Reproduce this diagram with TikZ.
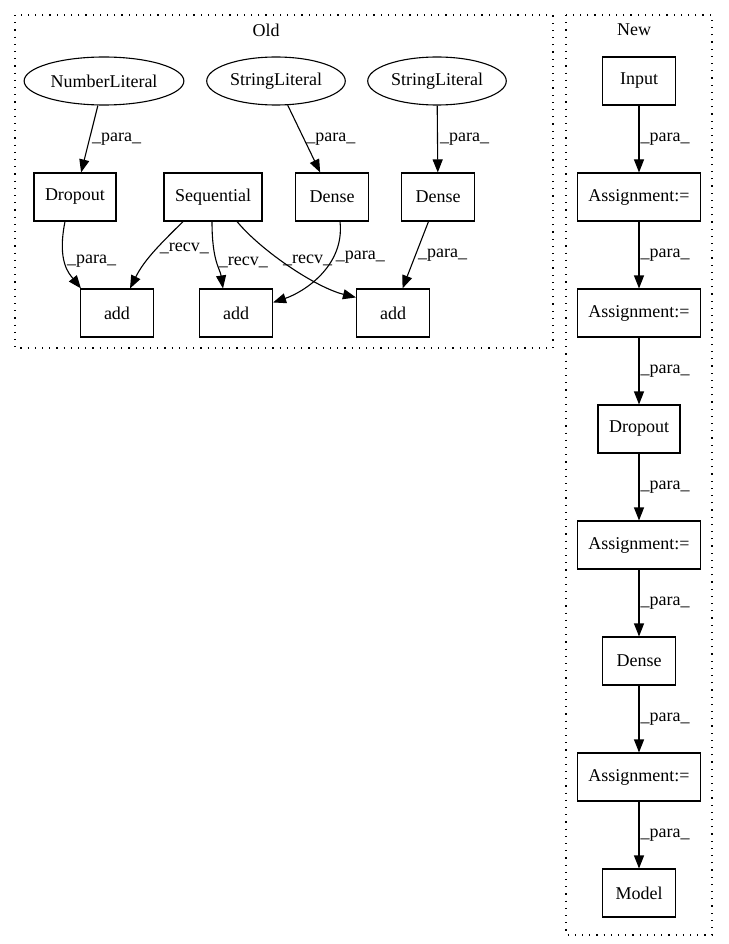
\documentclass[tikz,border=0pt]{standalone}
\usepackage{fontspec}
\setmainfont{Liberation Serif}
\usetikzlibrary{arrows.meta,shapes.geometric}
\definecolor{cLine}{HTML}{000000}
\tikzset{
  box/.style ={draw=cLine,rectangle,line width=1.1pt,minimum width=73pt,
               minimum height=48pt,inner xsep=11pt,
               font=\fontsize{18}{21}\selectfont},
  lit/.style ={box,ellipse,inner xsep=3pt},
  grp/.style ={draw=cLine,line width=1.1pt,dash pattern=on 1.2pt off 6pt},
  ttl/.style ={font=\fontsize{18}{21}\selectfont},
  sig/.style ={-{Triangle[length=13pt,width=10pt]},draw=cLine,line width=1.1pt},
  lbl/.style ={font=\fontsize{18}{21}\selectfont,inner sep=2pt,anchor=west},
}

\begin{document}
\begin{tikzpicture}[x=1pt,y=-1pt]
\useasboundingbox (0,0) rectangle (728,944);

% ---- Old -----------------------------------------------------------------
\draw[grp] (15,15) rectangle (553,348);
\node[ttl] (oldttl) at (266,30) {Old};

\node[lit] (numlit)  at (104,81) {NumberLiteral};
\node[lit] (strlit1) at (276,81) {StringLiteral};
\node[lit] (strlit2) at (437,81) {StringLiteral};
\node[box] (drop1)   at (75,197)  {Dropout};
\node[box] (seq)     at (213,197) {Sequential};
\node[box] (dense1)  at (332,197) {Dense};
\node[box] (dense2)  at (438,197) {Dense};
\node[box] (add1)    at (117,313) {add};
\node[box] (add2)    at (236,313) {add};
\node[box] (add3)    at (393,313) {add};

\draw[sig] (numlit)  -- (drop1)  node[lbl,midway] {\_para\_};
\draw[sig] (strlit1) -- (dense1) node[lbl,midway] {\_para\_};
\draw[sig] (strlit2) -- (dense2) node[lbl,midway] {\_para\_};
\draw[sig] ([xshift=-10pt]drop1.south) .. controls +(-8,40) and +(-12,-15)
  .. ([xshift=1pt]add1.north west) node[lbl,pos=0.45] {\_para\_};
\draw[sig] ([xshift=-30pt]seq.south) .. controls +(-20,20) and +(15,-30)
  .. ([xshift=13pt]add1.north) node[lbl,pos=0.45] {\_recv\_};
\draw[sig] ([xshift=-1pt]seq.south) .. controls +(0,40) and +(-3,-20)
  .. ([xshift=-13pt]add2.north) node[lbl,pos=0.5] {\_recv\_};
\draw[sig] ([xshift=24pt]seq.south) .. controls +(25,30) and +(-40,-10)
  .. ([yshift=-9pt]add3.north west) node[lbl,pos=0.42] {\_recv\_};
\draw[sig] ([xshift=8pt]dense1.south) .. controls +(5,45) and +(30,-10)
  .. ([yshift=-14pt]add2.north east) node[lbl,pos=0.3] {\_para\_};
\draw[sig] (dense2) -- (add3) node[lbl,midway] {\_para\_};

% ---- New -----------------------------------------------------------------
\draw[grp] (566,15) rectangle (712,935);
\node[ttl] (newttl) at (634,30) {New};

\node[box] (inp)   at (639,81)  {Input};
\node[box] (asg1)  at (639,197) {Assignment:=};
\node[box] (asg2)  at (639,313) {Assignment:=};
\node[box] (drop2) at (639,429) {Dropout};
\node[box] (asg3)  at (639,545) {Assignment:=};
\node[box] (dense3) at (639,661) {Dense};
\node[box] (asg4)  at (639,777) {Assignment:=};
\node[box] (model) at (639,893) {Model};

\foreach \a/\b in {inp/asg1,asg1/asg2,asg2/drop2,drop2/asg3,asg3/dense3,
                   dense3/asg4,asg4/model}
  {\draw[sig] (\a) -- (\b) node[lbl,midway,inner sep=1pt] {\_para\_};}
\end{tikzpicture}
\end{document}
